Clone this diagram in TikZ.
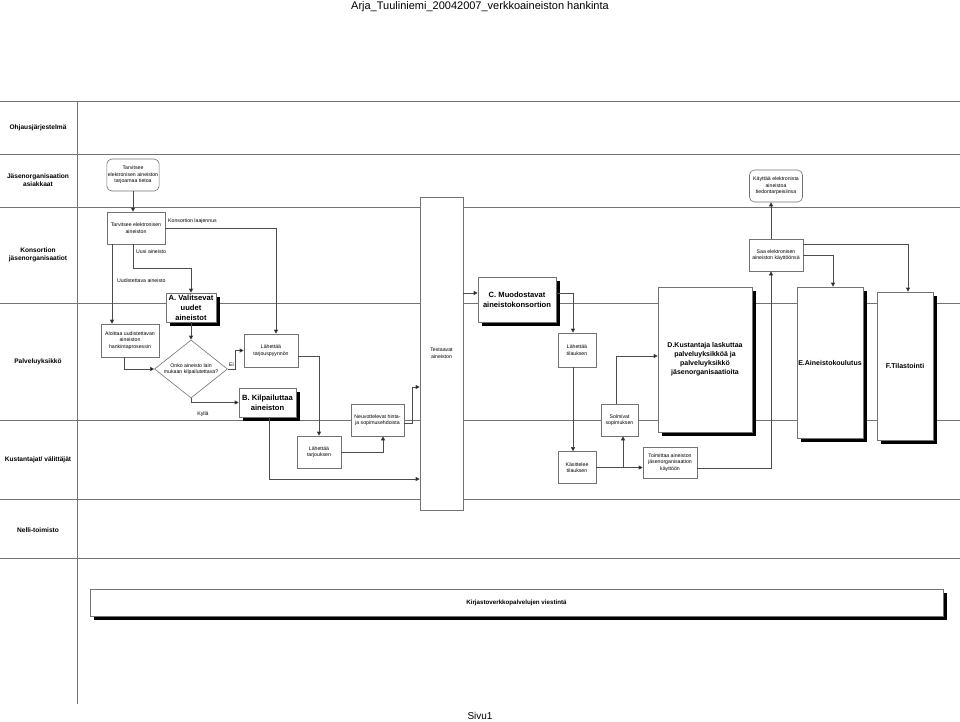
\documentclass[tikz,border=0pt]{standalone}
\usepackage{fontspec}
\setmainfont{Liberation Sans}
\usetikzlibrary{arrows.meta,shapes.geometric,shadows,calc}
\tikzset{
  lane/.style={draw=black!55, line width=0.7pt},
  box/.style={draw=black!55, fill=white, line width=0.6pt, align=center, inner sep=1pt, font=\fontsize{5.2}{6.6}\selectfont},
  rbox/.style={box, rounded corners=5pt},
  bigbox/.style={draw=black!55, fill=white, line width=0.6pt, align=center, inner sep=1pt,
     font=\bfseries\fontsize{7.6}{10}\selectfont,
     drop shadow={shadow xshift=3.5pt, shadow yshift=-3.5pt, fill=black, opacity=1}},
  lanelabel/.style={font=\bfseries\fontsize{6.6}{8.4}\selectfont, align=center},
  lbl/.style={font=\fontsize{5.2}{6.6}\selectfont, inner sep=1pt},
  arr/.style={draw=black!70, line width=0.6pt, -{Triangle[length=4pt,width=4pt,fill=black]}},
  con/.style={draw=black!70, line width=0.6pt}
}
\begin{document}
\begin{tikzpicture}[x=1pt,y=-1pt]
\useasboundingbox (0,0) rectangle (960,721);
% title and footer
\node (title) at (480,7) {\fontsize{11}{13}\selectfont Arja\_Tuuliniemi\_20042007\_verkkoaineiston hankinta};
\node (sivu) at (480,716) {\fontsize{10}{12}\selectfont Sivu1};
% lanes
\foreach \y in {101,154,207,303,420,499,558} \draw[lane] (0,\y) -- (960,\y);
\draw[lane] (77,101) -- (77,704);
\node[lanelabel] (l1) at (38,128) {Ohjausjärjestelmä};
\node[lanelabel] (l2) at (38,180) {Jäsenorganisaation\\asiakkaat};
\node[lanelabel] (l3) at (38,255) {Konsortion\\jäsenorganisaatiot};
\node[lanelabel] (l4) at (38,362) {Palveluyksikkö};
\node[lanelabel] (l5) at (38,460) {Kustantajat/ välittäjät};
\node[lanelabel] (l6) at (38,530) {Nelli-toimisto};
% nodes
\node[rbox, minimum width=52, minimum height=32] (t1) at (133,175) {Tarvitsee\\elektronisen aineiston\\tarjoamaa tietoa};
\node[box, minimum width=58, minimum height=32] (t2) at (136,228) {Tarvitsee elektronisen\\aineiston};
\node[rbox, minimum width=53, minimum height=32] (kay) at (776,186) {Käyttää elektronista\\aineistoa\\tiedontarpeisiinsa};
\node[box, minimum width=54, minimum height=32] (saa) at (776,255) {Saa elektronisen\\aineiston käyttöönsä};
\node[box, minimum width=58, minimum height=33] (alo) at (130,340.5) {Aloittaa uudistettavan\\aineiston\\hankintaprosessin};
\node[bigbox, minimum width=50, minimum height=29] (A) at (191,307.5) {A. Valitsevat\\uudet\\aineistot};
\node[draw=black!55, fill=white, line width=0.6pt, diamond, minimum width=73, minimum height=58, inner sep=0pt, align=center, font=\fontsize{5.2}{6.6}\selectfont] (dia) at (191,369) {};
\node[lbl, align=center] (diat) at (191,369) {Onko aineisto lain\\mukaan kilpailutettava?};
\node[box, minimum width=54, minimum height=33] (ltp) at (271,350.5) {Lähettää\\tarjouspyynnön};
\node[bigbox, minimum width=57, minimum height=29] (B) at (267.5,402.5) {B. Kilpailuttaa\\aineiston};
\node[box, minimum width=44, minimum height=32] (lt) at (319,452) {Lähettää\\tarjouksen};
\node[box, minimum width=53, minimum height=32] (neu) at (377.5,420) {Neuvottelevat hinta-\\ja sopimusehdoista};
\node[box, minimum width=43, minimum height=313] (test) at (441.5,353.5) {Testaavat\\aineiston};
\node[bigbox, minimum width=78, minimum height=45] (C) at (517,299.5) {C. Muodostavat\\aineistokonsortion};
\node[box, minimum width=38, minimum height=34] (lti) at (577,350) {Lähettää\\tilauksen};
\node[box, minimum width=38, minimum height=32] (kas) at (577,467.5) {Käsittelee\\tilauksen};
\node[box, minimum width=37, minimum height=32] (sol) at (619.5,420) {Solmivat\\sopimuksen};
\node[box, minimum width=54, minimum height=31] (toi) at (670,462.5) {Toimittaa aineiston\\jäsenorganisaation\\käyttöön};
\node[bigbox, minimum width=94, minimum height=145, font=\bfseries\fontsize{7}{9}\selectfont] (D) at (705,359.5) {D.Kustantaja laskuttaa\\palveluyksikköä ja\\palveluyksikkö\\jäsenorganisaatioita};
\node[bigbox, minimum width=66, minimum height=151, font=\bfseries\fontsize{7}{9}\selectfont] (E) at (830,362.5) {E.Aineistokoulutus};
\node[bigbox, minimum width=56, minimum height=148, font=\bfseries\fontsize{7}{9}\selectfont] (F) at (905,366) {F.Tilastointi};
\node[bigbox, minimum width=853, minimum height=27, font=\bfseries\fontsize{6.2}{8}\selectfont] (kir) at (516.5,602.5) {Kirjastoverkkopalvelujen viestintä};
% edge labels
\node[lbl, anchor=west] (lab1) at (167,221) {Konsortion laajennus};
\node[lbl, anchor=west] (lab2) at (135,252) {Uusi aineisto};
\node[lbl, anchor=west] (lab3) at (116,281) {Uudistettava aineisto};
\node[lbl, anchor=west] (lab4) at (228,365) {Ei};
\node[lbl] (lab5) at (203,414) {Kyllä};
% helper coordinates
\coordinate (c1) at ([yshift=6.5pt]C.west);
\coordinate (s1) at ([xshift=3.5pt]sol.south);
% connectors
\draw[arr] (t1.south) -- (t2.north -| t1.south);
\draw[arr] (t2.east) -| ([xshift=5pt]ltp.north);
\draw[arr] ([xshift=-3pt]t2.south) -- ++(0,24) -| (A.north);
\draw[arr] ([xshift=-24pt]t2.south) -- ([xshift=-18pt]alo.north);
\draw[arr] (A.south) -- (dia.north);
\draw[arr] ([xshift=-6pt]alo.south) |- (dia.west);
\draw[arr] (dia.east) -- ++(7,0) |- (ltp.west);
\draw[arr] (dia.south) |- (B.west);
\draw[arr] ([yshift=-6pt]ltp.east) -| (lt.north);
\draw[arr] (lt.east) -| ([xshift=5.5pt]neu.south);
\draw[arr] ([yshift=-3pt]neu.east) -- ++(8,0) |- ([yshift=-33.5pt]test.west);
\draw[arr] ([xshift=1.5pt]B.south) |- ([yshift=-125.5pt]test.west);
\draw[arr] (test.east |- c1) -- (c1);
\draw[arr] ([yshift=6.5pt]C.east) -| ([xshift=-4pt]lti.north);
\draw[arr] ([xshift=-4pt]lti.south) -- ([xshift=-4pt]kas.north);
\draw[arr] (kas.east) -- (kas.east -| toi.west);
\draw[arr] (s1 |- kas.east) -- (s1);
\draw[arr] ([xshift=-3.5pt]sol.north) |- ([yshift=3.5pt]D.west);
\draw[arr] ([yshift=-5.5pt]toi.east) -| ([xshift=-5pt]saa.south);
\draw[arr] ([xshift=-5pt]saa.north) -- ([xshift=-5pt]kay.south);
\draw[arr] ([yshift=11pt]saa.east) -| ([xshift=3pt]F.north);
\draw[arr] (saa.east) -| ([xshift=3pt]E.north);
\end{tikzpicture}
\end{document}
